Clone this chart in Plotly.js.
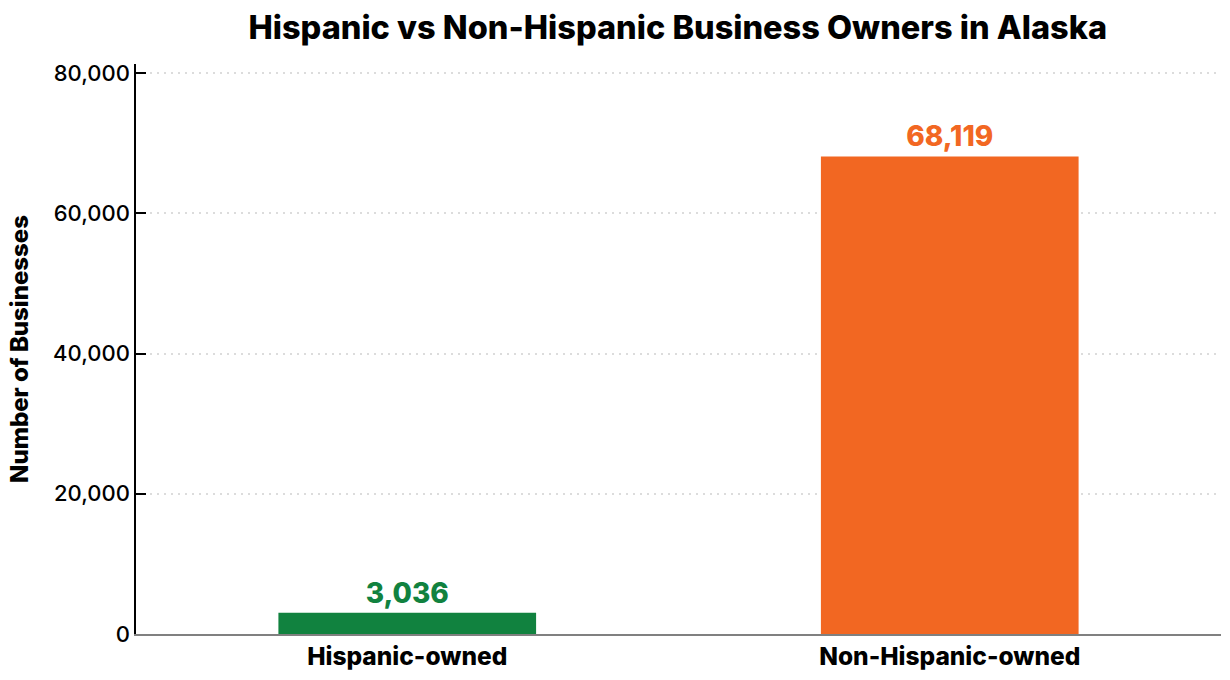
<!DOCTYPE html>
<html>
<head>
<meta charset="utf-8">
<script src="https://cdn.plot.ly/plotly-3.0.1.min.js"></script>
<style>
  html, body { margin: 0; padding: 0; background: #ffffff; }
  #bar-chart { width: 1230px; height: 680px; }
</style>
</head>
<body>
<div id="bar-chart"></div>
<script>
// Business owners in Alaska by ethnicity
var groups = ['Hispanic-owned', 'Non-Hispanic-owned'];
var owners = [3036, 68119];
var barColors = ['#11823f', '#f26722'];
var valueLabels = ['3,036', '68,119'];

function createBarChart() {
    var bars = {
        x: groups,
        y: owners,
        type: 'bar',
        width: 0.475,
        marker: {
            color: barColors
        },
        text: valueLabels,
        textposition: 'outside',
        cliponaxis: false,
        textfont: {
            family: 'Inter, Roboto, sans-serif',
            size: 28,
            color: barColors,
            weight: 800
        },
        hoverinfo: 'x+y'
    };

    var layout = {
        width: 1230,
        height: 680,
        paper_bgcolor: '#ffffff',
        plot_bgcolor: '#ffffff',
        font: {
            family: 'Inter, Roboto, sans-serif',
            color: '#000000'
        },
        margin: {
            l: 136,
            r: 9,
            t: 64,
            b: 46
        },
        title: {
            text: 'Hispanic vs Non-Hispanic Business Owners in Alaska',
            font: { size: 32.5, color: '#000000', weight: 800 },
            x: 0.551,
            xanchor: 'center',
            y: 0.96,
            yanchor: 'middle'
        },
        xaxis: {
            showgrid: false,
            showline: true,
            linecolor: '#808080',
            linewidth: 2,
            ticks: '',
            tickfont: { size: 24.5, weight: 800 }
        },
        yaxis: {
            range: [0, 81300],
            tickvals: [0, 20000, 40000, 60000, 80000],
            tickformat: ',d',
            showline: true,
            linecolor: '#000000',
            linewidth: 1.5,
            ticks: 'inside',
            ticklen: 10,
            tickwidth: 2,
            tickcolor: '#000000',
            tickfont: { size: 22, weight: 500 },
            showgrid: true,
            gridcolor: '#dcdcdc',
            griddash: '2px,5px',
            gridwidth: 2,
            zeroline: false,
            title: {
                text: 'Number of Businesses',
                font: { size: 24, weight: 800 },
                standoff: 18
            }
        },
        showlegend: false,
        bargap: 0.5
    };

    Plotly.newPlot('bar-chart', [bars], layout, { displayModeBar: false });
}

createBarChart();
</script>
</body>
</html>
